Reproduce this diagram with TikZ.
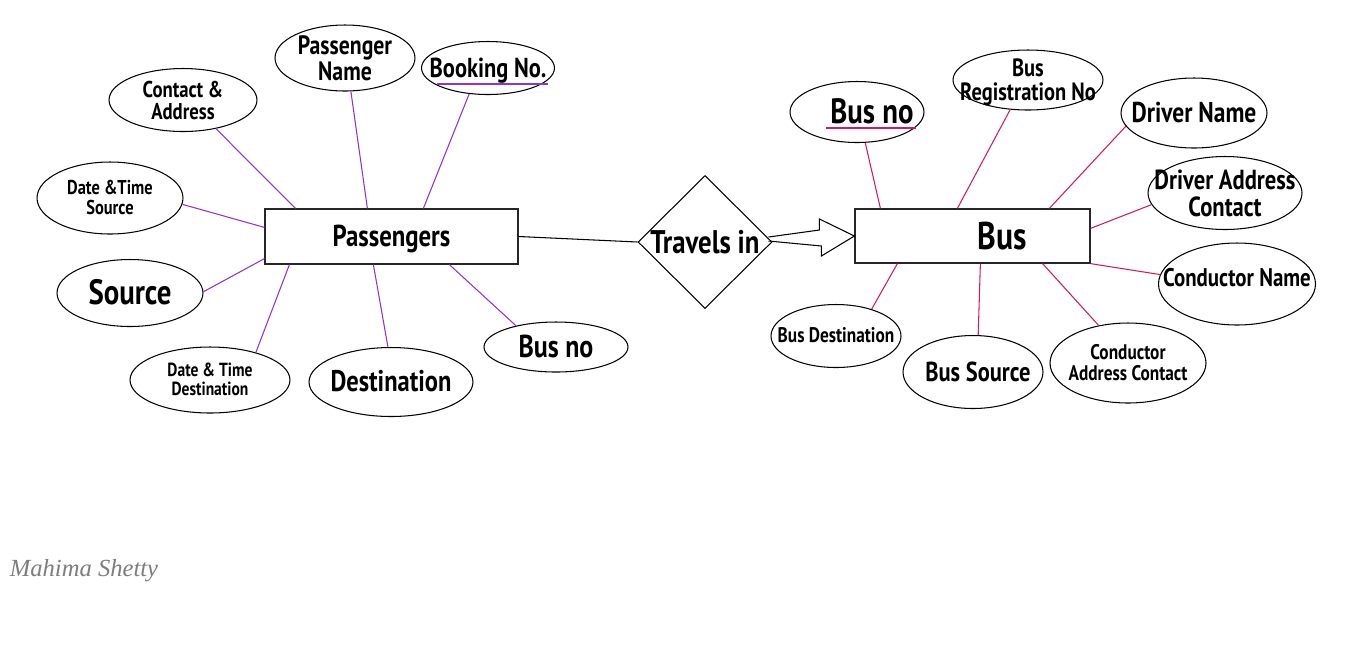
\documentclass[tikz,border=0pt]{standalone}
\usepackage{fontspec}
\setmainfont{PT Sans}[FakeStretch=0.82]
\newfontfamily\sigfont{Liberation Serif}
\usetikzlibrary{shapes.geometric,calc}
\definecolor{pline}{RGB}{140,50,225}
\definecolor{rline}{RGB}{212,24,104}
\definecolor{sig}{RGB}{125,125,125}
\newcommand\myfs[2]{\fontsize{#1}{#2}\selectfont}
\newcommand\lb[1]{\makebox[0pt]{\smash{\raisebox{-0.36em}{\begin{tabular}{@{}c@{}}#1\end{tabular}}}}}
\tikzset{
  attr/.style={ellipse, draw=black, line width=0.6pt, inner sep=0pt},
  ent/.style={rectangle, draw=black!85, line width=0.7pt, inner sep=0pt},
  rel/.style={diamond, draw=black, line width=0.6pt, inner sep=0pt},
  pl/.style={draw=pline, line width=0.6pt},
  rl/.style={draw=rline, line width=0.6pt},
}
\begin{document}
\begin{tikzpicture}[x=0.02cm,y=-0.02cm]
\fill[white] (0,0) rectangle (1366,654);
\useasboundingbox (0,0) rectangle (1366,654);

% Passengers entity and attributes
\node[ent, minimum width=5.06cm, minimum height=1.1cm, font=\bfseries\myfs{17.2}{15.5}] (pass) at (391.5,236.5) {\lb{Passengers}};
\node[attr, minimum width=2.8cm, minimum height=1.32cm, font=\bfseries\myfs{15.1}{13.2}] (pname) at (345,58) {\lb{Passenger\\Name}};
\node[attr, minimum width=2.66cm, minimum height=1.06cm, font=\bfseries\myfs{15.6}{14}] (book) at (488,68) {\lb{Booking No.}};
\node[attr, minimum width=2.96cm, minimum height=1.26cm, font=\bfseries\myfs{13}{11.4}] (contact) at (183,100) {\lb{Contact \&\\Address}};
\node[attr, minimum width=2.92cm, minimum height=1.44cm, font=\bfseries\myfs{11.4}{10.8}] (dts) at (110,198) {\lb{Date \&Time\\Source}};
\node[attr, minimum width=2.92cm, minimum height=1.34cm, font=\bfseries\myfs{20}{18}] (src) at (130,293) {\lb{Source}};
\node[attr, minimum width=3.2cm, minimum height=1.32cm, font=\bfseries\myfs{10.8}{10.5}] (dtd) at (210,380) {\lb{Date \& Time\\Destination}};
\node[attr, minimum width=3.28cm, minimum height=1.38cm, font=\bfseries\myfs{17}{15.3}] (dest) at (391,382) {\lb{Destination}};
\node[attr, minimum width=2.88cm, minimum height=1.0cm, font=\bfseries\myfs{18}{16.2}] (busnol) at (556,347) {\lb{Bus no}};

\draw[pl] (contact.-41.5) -- ([xshift=0.62cm]pass.north west);
\draw[pl] (pname.-80) -- ([xshift=2.06cm]pass.north west);
\draw[pl] (book.-126) -- ([xshift=3.18cm]pass.north west);
\draw[pl] (dts.-5) -- ([yshift=-0.38cm]pass.north west);
\draw[pl] (src.1) -- ([yshift=0.12cm]pass.south west);
\draw[pl] (dtd.31.6) -- ([xshift=0.5cm]pass.south west);
\draw[pl] (dest.95) -- ([xshift=2.18cm]pass.south west);
\draw[pl] (busnol.152) -- ([xshift=3.7cm]pass.south west);
\draw[pl] ([xshift=-1.02cm,yshift=-0.32cm]book.center) -- ([xshift=1.2cm,yshift=-0.32cm]book.center);

% Relationship
\node[rel, minimum width=2.68cm, minimum height=2.66cm, font=\bfseries\myfs{18.6}{16.7}] (trav) at (705,242) {\lb{Travels in}};
\draw[line width=0.6pt] (pass.east) -- (trav.west);

% Bus entity and attributes
\node[ent, minimum width=4.7cm, minimum height=1.08cm, font=\bfseries\myfs{22}{19.8}] (bus) at (972.5,236) {\lb{\hspace{1.2cm}Bus}};

\draw[line width=0.6pt, line join=miter]
  ($(trav.east)+(-4,-5)$) -- ($(bus.west)+(-35,-6)$)
  -- ($(bus.west)+(-35,-17)$) -- (bus.west)
  -- ($(bus.west)+(-33,20)$) -- ($(bus.west)+(-33,10)$)
  -- ($(trav.east)+(-4,-1)$);

\node[attr, minimum width=2.68cm, minimum height=1.22cm, font=\bfseries\myfs{20}{18}] (busnor) at (857,112) {\lb{\hspace{0.6cm}Bus no}};
\node[attr, minimum width=3.0cm, minimum height=1.2cm, font=\bfseries\myfs{14.2}{12.4}] (reg) at (1028,80) {\lb{Bus\\Registration No}};
\node[attr, minimum width=2.92cm, minimum height=1.4cm, font=\bfseries\myfs{16.3}{14.7}] (dname) at (1194,113) {\lb{Driver Name}};
\node[attr, minimum width=3.08cm, minimum height=1.46cm, font=\bfseries\myfs{15.7}{13.5}] (daddr) at (1225,193) {\lb{Driver Address\\Contact}};
\node[attr, minimum width=3.14cm, minimum height=1.64cm, font=\bfseries\myfs{14.5}{13}] (cname) at (1237,284) {\raisebox{0.25cm}{\lb{Conductor Name}}};
\node[attr, minimum width=3.12cm, minimum height=1.6cm, font=\bfseries\myfs{12}{11.2}] (caddr) at (1128,363) {\lb{Conductor\\Address Contact}};
\node[attr, minimum width=2.8cm, minimum height=1.46cm, font=\bfseries\myfs{15.6}{14}] (bsrc) at (973,372) {\lb{\hspace{0.2cm}Bus Source}};
\node[attr, minimum width=2.6cm, minimum height=1.26cm, font=\bfseries\myfs{12}{10.8}] (bdest) at (836,336) {\lb{Bus Destination}};

\draw[rl] (busnor.-75) -- ([xshift=0.52cm]bus.north west);
\draw[rl] (reg.-121) -- ([xshift=2.06cm]bus.north west);
\draw[rl] (dname.-169.5) -- ([xshift=3.9cm]bus.north west);
\draw[rl] (daddr.-171) -- ([yshift=-0.4cm]bus.north east);
\draw[rl] (cname.173) -- (bus.south east);
\draw[rl] (caddr.128) -- ([xshift=-0.96cm]bus.south east);
\draw[rl] (bsrc.82) -- ([xshift=2.52cm]bus.south west);
\draw[rl] (bdest.37) -- ([xshift=0.86cm]bus.south west);
\draw[rl] ([xshift=-0.62cm,yshift=-0.32cm]busnor.center) -- ([xshift=1.18cm,yshift=-0.32cm]busnor.center);

% Signature
\node[font=\sigfont\itshape\myfs{14}{14}, text=sig] (sign) at (84,571) {Mahima Shetty};
\end{tikzpicture}
\end{document}
